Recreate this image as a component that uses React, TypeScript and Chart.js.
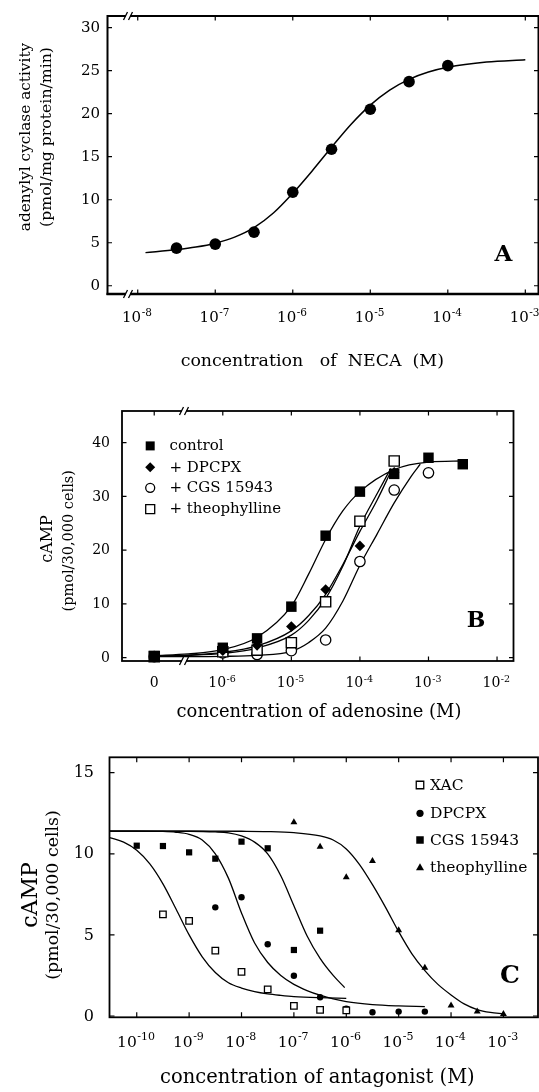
import React, { useEffect, useRef } from "react";
import { Chart, registerables } from "chart.js";

Chart.register(...registerables);

const FONT = "'DejaVu Serif', serif";

// ---------------- Panel A : NECA ----------------
const necaLogM = [-7.5, -7, -6.5, -6, -5.5, -5, -4.5, -4];
const necaActivity = [4.37, 4.84, 6.23, 10.88, 15.87, 20.52, 23.73, 25.59];
const necaFitLogM = [-7.9, -7.5, -7.25, -7, -6.75, -6.5, -6.25, -6, -5.75, -5.5, -5.25, -5, -4.75, -4.5, -4.25, -4, -3.5, -3];
const necaFitActivity = [3.85, 4.2, 4.5, 4.95, 5.65, 6.75, 8.45, 10.75, 13.35, 16.1, 18.75, 21.0, 22.75, 24.0, 24.85, 25.4, 26.0, 26.28];
const aYTicks = [0, 5, 10, 15, 20, 25, 30];
const aXTicks = [-8, -7, -6, -5, -4, -3];

// ---------------- Panel B : adenosine ----------------
// x = log10 [adenosine]; -7 is the position of the "0" (no adenosine) point
const bCtrlLogM = [-7, -6, -5.5, -5, -4.5, -4, -3.5, -3, -2.5];
const bCtrlCamp = [0.3, 1.85, 3.6, 9.5, 22.7, 30.9, 34.2, 37.2, 36.0];
const bDpcpxLogM = [-7, -6, -5.5, -5, -4.5, -4, -3.5];
const bDpcpxCamp = [0.2, 1.3, 2.3, 5.8, 12.7, 20.8, 34.5];
const bCgsLogM = [-7, -6, -5.5, -5, -4.5, -4, -3.5, -3];
const bCgsCamp = [0.2, 0.9, 0.6, 1.3, 3.3, 17.9, 31.2, 34.4];
const bTheoLogM = [-7, -6, -5.5, -5, -4.5, -4, -3.5];
const bTheoCamp = [0.2, 1.1, 1.4, 2.8, 10.4, 25.4, 36.6];

const bCtrlFitLogM = [-7, -6.5, -6, -5.5, -5, -4.75, -4.5, -4.25, -4, -3.5, -3, -2.5];
const bCtrlFitCamp = [0.4, 0.7, 1.5, 3.8, 9.6, 15.5, 22.0, 27.3, 30.9, 35.0, 36.4, 36.6];
const bPairFitLogM = [-7, -6.5, -6, -5.5, -5, -4.75, -4.5, -4.25, -4, -3.75, -3.55];
const bDpcpxFitCamp = [0.3, 0.5, 1.0, 2.2, 5.0, 7.8, 11.8, 17.3, 23.5, 29.3, 34.6];
const bTheoFitCamp = [0.3, 0.45, 0.8, 1.8, 4.2, 6.9, 11.0, 17.0, 24.5, 30.5, 35.2];
const bCgsFitLogM = [-7, -6.5, -6, -5.5, -5, -4.75, -4.5, -4.25, -4, -3.75, -3.5, -3.25, -3.12];
const bCgsFitCamp = [0.2, 0.2, 0.25, 0.45, 1.2, 2.8, 5.5, 10.5, 17.2, 23.0, 28.8, 33.8, 36.0];
const bYTicks = [0, 10, 20, 30, 40];
const bXTicks = [-7, -6, -5, -4, -3, -2];
const bXTickLabels = ["0", null, null, null, null, null];

// ---------------- Panel C : antagonists ----------------
const cXacLogM = [-9.5, -9, -8.5, -8, -7.5, -7, -6.5, -6];
const cXacCamp = [6.27, 5.86, 4.03, 2.72, 1.64, 0.62, 0.38, 0.35];
const cDpcpxLogM = [-8.5, -8, -7.5, -7, -6.5, -6, -5.5, -5, -4.5];
const cDpcpxCamp = [6.7, 7.32, 4.42, 2.48, 1.16, 0.45, 0.23, 0.27, 0.27];
const cCgsLogM = [-10, -9.5, -9, -8.5, -8, -7.5, -7, -6.5, -6];
const cCgsCamp = [10.5, 10.48, 10.09, 9.7, 10.75, 10.34, 4.07, 5.26, 0.41];
const cTheoLogM = [-7, -6.5, -6, -5.5, -5, -4.5, -4, -3.5, -3];
const cTheoCamp = [11.94, 10.44, 8.55, 9.56, 5.28, 2.98, 0.64, 0.27, 0.12];

const cXacFitLogM = [-10.52, -10.25, -10, -9.75, -9.5, -9.25, -9, -8.75, -8.5, -8.25, -8, -7.75, -7.5, -7.25, -7, -6.5, -6];
const cXacFitCamp = [11.0, 10.72, 10.22, 9.38, 8.15, 6.6, 5.0, 3.65, 2.68, 2.05, 1.72, 1.5, 1.36, 1.27, 1.2, 1.13, 1.09];
const cDpcpxFitLogM = [-10.52, -10, -9.5, -9.25, -9, -8.75, -8.5, -8.25, -8, -7.75, -7.5, -7.25, -7, -6.75, -6.5, -6.25, -6, -5.5, -5, -4.5];
const cDpcpxFitCamp = [11.4, 11.4, 11.38, 11.33, 11.2, 10.85, 10.0, 8.5, 6.35, 4.5, 3.3, 2.5, 1.95, 1.57, 1.28, 1.05, 0.88, 0.7, 0.62, 0.58];
const cCgsFitLogM = [-10.52, -9, -8.5, -8.25, -8, -7.75, -7.5, -7.25, -7, -6.75, -6.5, -6.25, -6.03];
const cCgsFitCamp = [11.4, 11.39, 11.35, 11.29, 11.1, 10.72, 10.0, 8.65, 6.8, 4.95, 3.55, 2.5, 1.75];
const cTheoFitLogM = [-10.52, -9, -8, -7.5, -7, -6.5, -6.25, -6, -5.75, -5.5, -5.25, -5, -4.75, -4.5, -4.25, -4, -3.75, -3.5, -3.25, -3];
const cTheoFitCamp = [11.4, 11.4, 11.39, 11.37, 11.3, 11.1, 10.85, 10.3, 9.35, 8.1, 6.7, 5.2, 3.85, 2.8, 1.95, 1.3, 0.75, 0.4, 0.22, 0.13];
const cYTicks = [0, 5, 10, 15];
const cXTicks = [-10, -9, -8, -7, -6, -5, -4, -3];

// ---------------- helpers ----------------
const toXY = (xs: number[], ys: number[]) => xs.map((x, i) => ({ x, y: ys[i] }));

function markers(xs: number[], ys: number[], style: string, radius: number, filled: boolean, bw = 1.3) {
  return {
    type: "scatter",
    data: toXY(xs, ys),
    showLine: false,
    pointStyle: style,
    pointRadius: radius,
    pointBackgroundColor: filled ? "#000" : "#fff",
    pointBorderColor: "#000",
    pointBorderWidth: filled ? 0 : bw,
    clip: false,
  };
}

function curve(xs: number[], ys: number[], w = 1.3) {
  return {
    type: "line",
    data: toXY(xs, ys),
    pointRadius: 0,
    borderColor: "#000",
    borderWidth: w,
    cubicInterpolationMode: "monotone",
    fill: false,
  };
}

function drawMarker(ctx: CanvasRenderingContext2D, kind: string, x: number, y: number, s: number, filled: boolean) {
  ctx.save();
  ctx.fillStyle = filled ? "#000" : "#fff";
  ctx.strokeStyle = "#000";
  ctx.lineWidth = 1.3;
  ctx.beginPath();
  if (kind === "square") ctx.rect(x - s / 2, y - s / 2, s, s);
  else if (kind === "circle") ctx.arc(x, y, s / 2, 0, Math.PI * 2);
  else if (kind === "diamond") {
    ctx.moveTo(x, y - s / 2);
    ctx.lineTo(x + s / 2, y);
    ctx.lineTo(x, y + s / 2);
    ctx.lineTo(x - s / 2, y);
    ctx.closePath();
  } else if (kind === "triangle") {
    const h = s * 0.87;
    ctx.moveTo(x, y - h * 0.6);
    ctx.lineTo(x + s / 2, y + h * 0.4);
    ctx.lineTo(x - s / 2, y + h * 0.4);
    ctx.closePath();
  }
  ctx.fill();
  if (!filled) ctx.stroke();
  ctx.restore();
}

interface Spec {
  frame: number;
  bottomFrame?: number;
  tickLen: number;
  yTicks: number[];
  yFont: number;
  yRight: number;
  xTicks: number[];
  xLabels?: (string | null)[];
  xFont: number;
  xExp: number;
  xBase: number;
  xRaise: number;
  yTitles: { text: string; x: number; y: number; size: number }[];
  xTitle: { text: string; x: number; y: number; size: number };
  letter: { text: string; x: number; y: number; size: number };
  breakX?: number;
  legend?: { mx: number; tx: number; size: number; rows: { y: number; kind: string; filled: boolean; ms: number; label: string }[] };
}

function decor(spec: Spec) {
  return {
    id: "decor",
    beforeDatasetsDraw(chart: any) {
      const ctx: CanvasRenderingContext2D = chart.ctx;
      const { left, right, top, bottom } = chart.chartArea;
      const xs = chart.scales.x;
      const ys = chart.scales.y;
      ctx.save();
      ctx.strokeStyle = "#000";
      ctx.lineWidth = spec.frame;
      ctx.strokeRect(left, top, right - left, bottom - top);
      if (spec.bottomFrame) {
        ctx.lineWidth = spec.bottomFrame;
        ctx.beginPath();
        ctx.moveTo(left - 1, bottom);
        ctx.lineTo(right + 1, bottom);
        ctx.stroke();
      }
      ctx.lineWidth = 1.2;
      ctx.beginPath();
      for (const v of spec.yTicks) {
        const py = ys.getPixelForValue(v);
        ctx.moveTo(left, py);
        ctx.lineTo(left + spec.tickLen, py);
        ctx.moveTo(right, py);
        ctx.lineTo(right - spec.tickLen, py);
      }
      for (const v of spec.xTicks) {
        const px = xs.getPixelForValue(v);
        ctx.moveTo(px, bottom);
        ctx.lineTo(px, bottom - spec.tickLen);
        ctx.moveTo(px, top);
        ctx.lineTo(px, top + spec.tickLen);
      }
      ctx.stroke();
      if (spec.breakX !== undefined) {
        const bx = spec.breakX;
        for (const yy of [top, bottom]) {
          ctx.fillStyle = "#fff";
          ctx.fillRect(bx - 2, yy - 2, 4, 4);
          ctx.beginPath();
          ctx.lineWidth = 1.3;
          ctx.moveTo(bx - 4.5, yy + 4);
          ctx.lineTo(bx - 0.5, yy - 4);
          ctx.moveTo(bx + 0.5, yy + 4);
          ctx.lineTo(bx + 4.5, yy - 4);
          ctx.stroke();
        }
      }
      ctx.restore();
    },
    afterDraw(chart: any) {
      const ctx: CanvasRenderingContext2D = chart.ctx;
      const xs = chart.scales.x;
      const ys = chart.scales.y;
      ctx.save();
      ctx.fillStyle = "#000";
      ctx.font = `${spec.yFont}px ${FONT}`;
      ctx.textAlign = "right";
      ctx.textBaseline = "middle";
      for (const v of spec.yTicks) {
        ctx.fillText(String(v), spec.yRight, ys.getPixelForValue(v) + 0.5);
      }
      ctx.textAlign = "left";
      ctx.textBaseline = "alphabetic";
      spec.xTicks.forEach((v, i) => {
        const px = xs.getPixelForValue(v);
        const lab = spec.xLabels ? spec.xLabels[i] : null;
        if (lab) {
          ctx.font = `${spec.xFont}px ${FONT}`;
          const w = ctx.measureText(lab).width;
          ctx.fillText(lab, px - w / 2, spec.xBase);
          return;
        }
        ctx.font = `${spec.xFont}px ${FONT}`;
        const w10 = ctx.measureText("10").width;
        const exp = String(v);
        ctx.font = `${spec.xExp}px ${FONT}`;
        const we = ctx.measureText(exp).width;
        const sx = px - (w10 + we) / 2 - 1;
        ctx.font = `${spec.xFont}px ${FONT}`;
        ctx.fillText("10", sx, spec.xBase);
        ctx.font = `${spec.xExp}px ${FONT}`;
        ctx.fillText(exp, sx + w10 + 0.5, spec.xBase - spec.xRaise);
      });
      for (const t of spec.yTitles) {
        ctx.save();
        ctx.translate(t.x, t.y);
        ctx.rotate(-Math.PI / 2);
        ctx.font = `${t.size}px ${FONT}`;
        ctx.textAlign = "center";
        ctx.textBaseline = "middle";
        ctx.fillText(t.text, 0, 0);
        ctx.restore();
      }
      ctx.font = `${spec.xTitle.size}px ${FONT}`;
      ctx.textAlign = "center";
      ctx.textBaseline = "alphabetic";
      ctx.fillText(spec.xTitle.text, spec.xTitle.x, spec.xTitle.y);
      ctx.font = `bold ${spec.letter.size}px ${FONT}`;
      ctx.textAlign = "center";
      ctx.textBaseline = "middle";
      ctx.fillText(spec.letter.text, spec.letter.x, spec.letter.y);
      if (spec.legend) {
        const lg = spec.legend;
        ctx.font = `${lg.size}px ${FONT}`;
        ctx.textAlign = "left";
        ctx.textBaseline = "middle";
        for (const r of lg.rows) {
          drawMarker(ctx, r.kind, lg.mx, r.y, r.ms, r.filled);
          ctx.fillStyle = "#000";
          ctx.fillText(r.label, lg.tx, r.y + 0.5);
        }
      }
      ctx.restore();
    },
  };
}

function makeConfig(datasets: any[], pad: any, xr: [number, number], yr: [number, number], spec: Spec) {
  return {
    type: "scatter",
    data: { datasets },
    options: {
      animation: false,
      responsive: false,
      devicePixelRatio: 1,
      events: [],
      layout: { padding: pad, autoPadding: false },
      plugins: { legend: { display: false }, tooltip: { enabled: false }, title: { display: false } },
      scales: {
        x: { type: "linear", min: xr[0], max: xr[1], display: false },
        y: { type: "linear", min: yr[0], max: yr[1], display: false },
      },
    },
    plugins: [decor(spec)],
  } as any;
}

const configA = () =>
  makeConfig(
    [markers(necaLogM, necaActivity, "circle", 5.8, true), curve(necaFitLogM, necaFitActivity, 1.5)],
    { left: 107.5, right: 0.5, top: 16, bottom: 81 },
    [-8.39, -2.83],
    [-0.96, 31.36],
    {
      frame: 2,
      bottomFrame: 2.6,
      tickLen: 4.5,
      yTicks: aYTicks,
      yFont: 15,
      yRight: 100,
      xTicks: aXTicks,
      xFont: 15,
      xExp: 10.5,
      xBase: 321.7,
      xRaise: 5.5,
      yTitles: [
        { text: "adenylyl cyclase activity", x: 26, y: 137, size: 15.3 },
        { text: "(pmol/mg protein/min)", x: 46.6, y: 137, size: 15.7 },
      ],
      xTitle: { text: "concentration   of  NECA  (M)", x: 312.3, y: 366, size: 17.4 },
      letter: { text: "A", x: 503.3, y: 255, size: 23 },
      breakX: 128,
    }
  );

const configB = () =>
  makeConfig(
    [
      markers(bCtrlLogM, bCtrlCamp, "rect", 7.4, true),
      markers(bDpcpxLogM, bDpcpxCamp, "rectRot", 5.3, true),
      markers(bTheoLogM, bTheoCamp, "rect", 7.2, false, 1.4),
      markers(bCgsLogM, bCgsCamp, "circle", 5.2, false, 1.3),
      curve(bCtrlFitLogM, bCtrlFitCamp),
      curve(bPairFitLogM, bDpcpxFitCamp),
      curve(bPairFitLogM, bTheoFitCamp),
      curve(bCgsFitLogM, bCgsFitCamp),
    ],
    { left: 122, right: 25.5, top: 36, bottom: 67 },
    [-7.47, -1.76],
    [-0.61, 45.9],
    {
      frame: 1.8,
      tickLen: 4.5,
      yTicks: bYTicks,
      yFont: 14,
      yRight: 110,
      xTicks: bXTicks,
      xLabels: bXTickLabels,
      xFont: 14,
      xExp: 9.5,
      xBase: 311.7,
      xRaise: 5,
      yTitles: [
        { text: "cAMP", x: 48.3, y: 164, size: 16 },
        { text: "(pmol/30,000 cells)", x: 69, y: 165.8, size: 14.5 },
      ],
      xTitle: { text: "concentration of adenosine (M)", x: 319, y: 341.7, size: 17.9 },
      letter: { text: "B", x: 476, y: 246, size: 22 },
      breakX: 184,
      legend: {
        mx: 150.2,
        tx: 169.5,
        size: 15,
        rows: [
          { y: 70.9, kind: "square", filled: true, ms: 9, label: "control" },
          { y: 92.2, kind: "diamond", filled: true, ms: 10, label: "+ DPCPX" },
          { y: 112.8, kind: "circle", filled: false, ms: 9, label: "+ CGS 15943" },
          { y: 134.1, kind: "square", filled: false, ms: 9, label: "+ theophylline" },
        ],
      },
    }
  );

const configC = () =>
  makeConfig(
    [
      markers(cXacLogM, cXacCamp, "rect", 4.6, false, 1.3),
      markers(cDpcpxLogM, cDpcpxCamp, "circle", 3.2, true),
      markers(cCgsLogM, cCgsCamp, "rect", 4.4, true),
      markers(cTheoLogM, cTheoCamp, "triangle", 4.0, true),
      curve(cXacFitLogM, cXacFitCamp),
      curve(cDpcpxFitLogM, cDpcpxFitCamp),
      curve(cCgsFitLogM, cCgsFitCamp),
      curve(cTheoFitLogM, cTheoFitCamp),
    ],
    { left: 109.5, right: 1, top: 29.3, bottom: 74.7 },
    [-10.52, -2.34],
    [-0.08, 15.95],
    {
      frame: 1.8,
      tickLen: 5,
      yTicks: cYTicks,
      yFont: 16,
      yRight: 94,
      xTicks: cXTicks,
      xFont: 15.5,
      xExp: 11,
      xBase: 318.7,
      xRaise: 6.5,
      yTitles: [
        { text: "cAMP", x: 31, y: 167, size: 22 },
        { text: "(pmol/30,000 cells)", x: 53.3, y: 167, size: 17.4 },
      ],
      xTitle: { text: "concentration of antagonist (M)", x: 317.4, y: 355, size: 19.5 },
      letter: { text: "C", x: 510, y: 248.7, size: 25 },
      legend: {
        mx: 420,
        tx: 430,
        size: 15.5,
        rows: [
          { y: 57, kind: "square", filled: false, ms: 7.5, label: "XAC" },
          { y: 85.3, kind: "circle", filled: true, ms: 7.2, label: "DPCPX" },
          { y: 112, kind: "square", filled: true, ms: 7.5, label: "CGS 15943" },
          { y: 139.5, kind: "triangle", filled: true, ms: 8, label: "theophylline" },
        ],
      },
    }
  );

export default function App() {
  const refA = useRef<HTMLCanvasElement>(null);
  const refB = useRef<HTMLCanvasElement>(null);
  const refC = useRef<HTMLCanvasElement>(null);

  useEffect(() => {
    document.body.style.margin = "0";
    document.body.style.background = "#fff";
    const charts = [
      new Chart(refA.current!, configA()),
      new Chart(refB.current!, configB()),
      new Chart(refC.current!, configC()),
    ];
    return () => charts.forEach((c) => c.destroy());
  }, []);

  const cs: React.CSSProperties = { position: "absolute", left: 0, display: "block" };
  return (
    <div style={{ position: "relative", width: 539, height: 1092, background: "#fff", overflow: "hidden" }}>
      <canvas ref={refA} width={539} height={375} style={{ ...cs, top: 0, width: 539, height: 375 }} />
      <canvas ref={refB} width={539} height={353} style={{ ...cs, top: 375, width: 539, height: 353 }} />
      <canvas ref={refC} width={539} height={364} style={{ ...cs, top: 728, width: 539, height: 364 }} />
    </div>
  );
}
